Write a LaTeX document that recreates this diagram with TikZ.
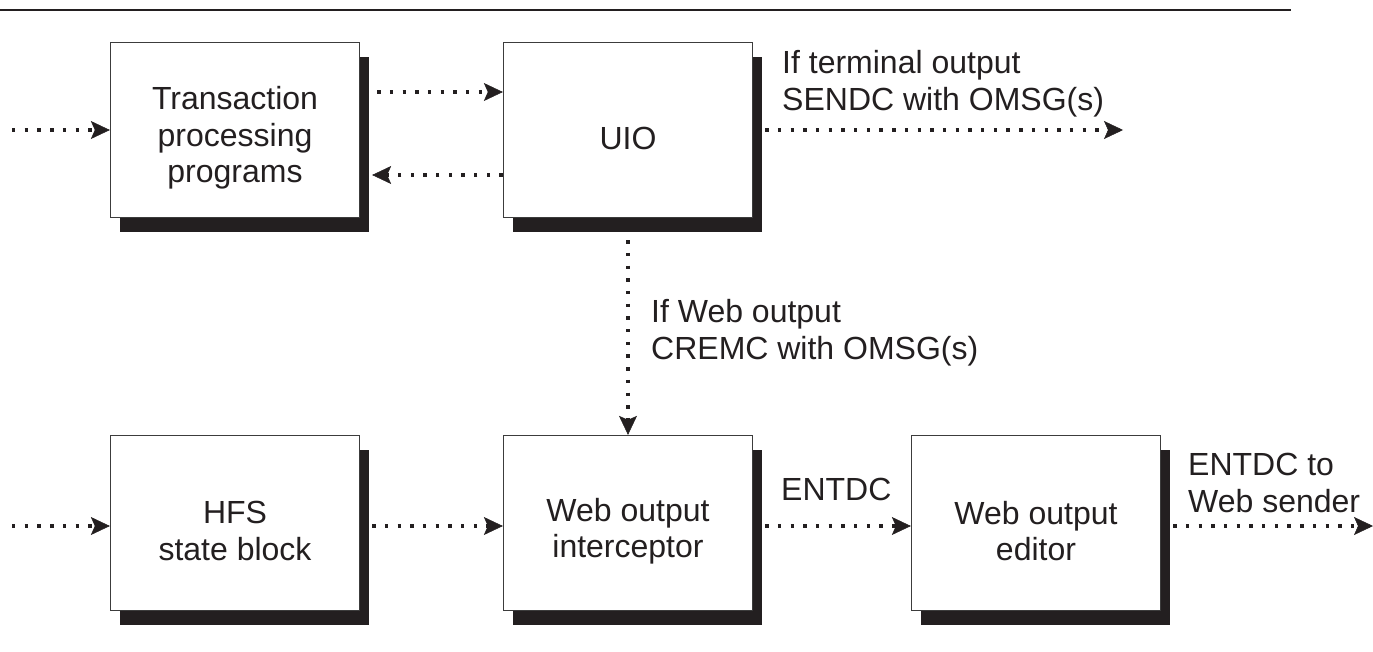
\documentclass[tikz,border=0pt]{standalone}
\usepackage{fontspec}
\setmainfont{Liberation Sans}
\usetikzlibrary{arrows.meta,shadows}
\definecolor{ink}{HTML}{231F20}
\definecolor{frame}{HTML}{3C3C3C}

\begin{document}
\begin{tikzpicture}[x=1pt,y=-1pt,
  font=\fontsize{32}{36.5}\selectfont, text=ink,
  box/.style={draw=frame, line width=1.3pt, fill=white,
    minimum width=249pt, minimum height=175pt, inner sep=0pt,
    drop shadow={shadow xshift=9.5pt, shadow yshift=-14.5pt, fill=ink, opacity=1}},
  boxtext/.style={align=center, inner sep=0pt},
  lbl/.style={align=left, inner sep=0pt, anchor=base west},
  flow/.style={draw=ink, line width=3.4pt, dash pattern=on 3.4pt off 9.3pt,
    -{Stealth[length=19pt,width=18pt,inset=4pt,line width=0.5pt]}},
]
\useasboundingbox (0,0) rectangle (1373,651);

% rule across the top
\draw[line width=2pt, draw=ink] (0,10) -- (1291,10);

% processing blocks
\node[box] (tpp) at (235,130) {};
\node[box] (uio) at (628,130) {};
\node[box] (hfs) at (235,523) {};
\node[box] (woi) at (628,523) {};
\node[box] (woe) at (1036,523) {};

\node[boxtext] (tpp-t) at ([yshift=-8pt]tpp.center) {Transaction\\processing\\programs};
\node[boxtext] (uio-t) at ([yshift=-8pt]uio.center) {UIO};
\node[boxtext] (hfs-t) at ([yshift=-8pt]hfs.center) {HFS\\state block};
\node[boxtext] (woi-t) at ([yshift=-8pt]woi.center) {Web output\\interceptor};
\node[boxtext] (woe-t) at ([yshift=-8pt]woe.center) {Web output\\editor};

% free ends of the flows
\coordinate (in1) at (12,130);
\coordinate (in2) at (12,526);
\coordinate (out1) at (1123,130);
\coordinate (out2) at (1373,526);

% flows
\draw[flow] (in1) -- (tpp.west);
\draw[flow] ([xshift=17pt,yshift=38pt]tpp.east) -- ([yshift=38pt]uio.west);
\draw[flow] ([yshift=-45pt]uio.west) -- ([xshift=12pt,yshift=-45pt]tpp.east);
\draw[flow] ([xshift=12pt]uio.east) -- (out1);
\draw[flow] ([yshift=-22pt]uio.south) -- (woi.north);
\draw[flow] (in2) -- ([yshift=-3pt]hfs.west);
\draw[flow] ([xshift=12pt,yshift=-3pt]hfs.east) -- ([yshift=-3pt]woi.west);
\draw[flow] ([xshift=12pt,yshift=-3pt]woi.east) -- ([yshift=-3pt]woe.west);
\draw[flow] ([xshift=12pt,yshift=-3pt]woe.east) -- (out2);

% flow labels (anchored on the baseline of their last line)
\node[lbl] (l-term) at (782,110) {If terminal output\\SENDC with OMSG(s)};
\node[lbl] (l-web) at (651,359) {If Web output\\CREMC with OMSG(s)};
\node[lbl] (l-entdc) at (781,500) {ENTDC};
\node[lbl] (l-send) at (1188,512) {ENTDC to\\Web sender};
\end{tikzpicture}
\end{document}
